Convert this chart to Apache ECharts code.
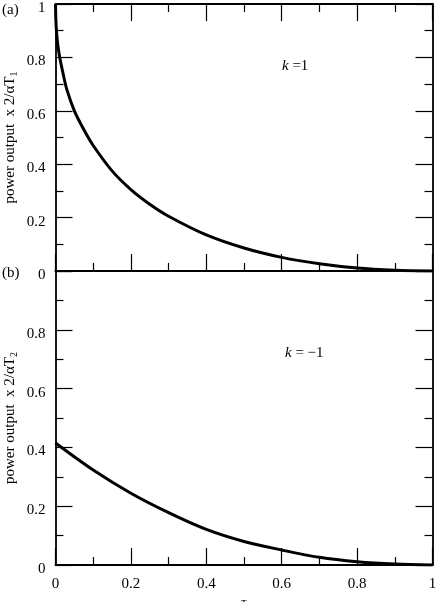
<!DOCTYPE html>
<html>
<head>
<meta charset="utf-8">
<script src="https://cdn.jsdelivr.net/npm/echarts@6/dist/echarts.min.js"></script>
<style>
  html, body { margin: 0; padding: 0; background: #fff; }
  #main { width: 442px; height: 602px; }
</style>
</head>
<body>
<div id="main"></div>
<script>
// panel (a), k = 1
const tauA = [0, 0.001, 0.0025, 0.005, 0.01, 0.02, 0.03, 0.05, 0.075, 0.1, 0.15, 0.2, 0.25, 0.3, 0.4, 0.5, 0.6, 0.7, 0.8, 0.9, 1];
const powerA = [1, 0.94, 0.90, 0.86, 0.81, 0.74, 0.68, 0.60, 0.53, 0.47, 0.375, 0.305, 0.25, 0.205, 0.135, 0.086, 0.051, 0.027, 0.011, 0.003, 0];
// panel (b), k = -1
const tauB = [0, 0.1, 0.2, 0.3, 0.4, 0.5, 0.6, 0.7, 0.8, 0.9, 1];
const powerB = [0.415, 0.323, 0.244, 0.178, 0.121, 0.08, 0.051, 0.026, 0.011, 0.003, 0];

const FONT = '"Liberation Serif", "DejaVu Serif", serif';

function pairs(xs, ys) {
  return xs.map((x, i) => [x, ys[i]]);
}

const line = { show: true, onZero: false, lineStyle: { color: '#000', width: 1.8 } };
const minor = { show: true, splitNumber: 2, length: 8, lineStyle: { color: '#000', width: 1.2 } };

function tickFor(show) {
  return { show, inside: true, length: 17, lineStyle: { color: '#000', width: 1.2 } };
}

function xAxisFor(gridIndex, position, showLabels, showTicks) {
  return {
    type: 'value', gridIndex, position, min: 0, max: 1, interval: 0.2,
    axisLine: line, axisTick: tickFor(showTicks),
    minorTick: Object.assign({}, minor, { show: showTicks }),
    splitLine: { show: false },
    axisLabel: { show: showLabels, color: '#000', fontFamily: FONT, fontSize: 15, margin: 12 },
    name: showLabels ? 'τ' : '', nameLocation: 'middle', nameGap: 31, nameMoveOverlap: false,
    nameTextStyle: { color: '#000', fontFamily: FONT, fontSize: 15 }
  };
}

function yAxisFor(gridIndex, position, showLabels, sub, hideMax) {
  return {
    type: 'value', gridIndex, position, min: 0, max: 1, interval: 0.2,
    axisLine: line, axisTick: tickFor(true), minorTick: minor,
    splitLine: { show: false },
    axisLabel: {
      show: showLabels, color: '#000', fontFamily: FONT, fontSize: 15, margin: 10,
      verticalAlign: 'top', lineHeight: 8, showMaxLabel: !hideMax
    },
    name: showLabels ? 'power output  x 2/αT{s|' + sub + '}' : '',
    nameLocation: 'middle', nameGap: 36, nameMoveOverlap: false,
    nameTextStyle: {
      color: '#000', fontFamily: FONT, fontSize: 15,
      rich: { s: { fontFamily: FONT, fontSize: 10, padding: [8, 0, 0, 0] } }
    }
  };
}

const chart = echarts.init(document.getElementById('main'), null, { renderer: 'canvas' });
chart.setOption({
  backgroundColor: '#fff',
  animation: false,
  grid: [
    { left: 55.5, right: 9.5, top: 4, height: 267, outerBoundsMode: 'none', containLabel: false },
    { left: 55.5, right: 9.5, top: 271, height: 294, outerBoundsMode: 'none', containLabel: false }
  ],
  xAxis: [
    xAxisFor(0, 'bottom', false, true),
    xAxisFor(0, 'top', false, true),
    xAxisFor(1, 'bottom', true, true),
    xAxisFor(1, 'top', false, false)
  ],
  yAxis: [
    yAxisFor(0, 'left', true, '1', false),
    yAxisFor(0, 'right', false, '', false),
    yAxisFor(1, 'left', true, '2', true),
    yAxisFor(1, 'right', false, '', false)
  ],
  series: [
    {
      type: 'line', xAxisIndex: 0, yAxisIndex: 0, data: pairs(tauA, powerA),
      smooth: 0.3, showSymbol: false,
      lineStyle: { color: '#000', width: 3 }
    },
    {
      type: 'line', xAxisIndex: 2, yAxisIndex: 2, data: pairs(tauB, powerB),
      smooth: 0.3, showSymbol: false,
      lineStyle: { color: '#000', width: 3 }
    }
  ],
  graphic: [
    { type: 'text', left: 2, top: 3, style: { text: '(a)', fill: '#000', font: '15px ' + FONT } },
    { type: 'text', left: 2, top: 266, style: { text: '(b)', fill: '#000', font: '15px ' + FONT } },
    {
      type: 'text', left: 282, top: 59,
      style: {
        text: '{i|k} =1', fill: '#000', font: '15px ' + FONT,
        rich: { i: { fontStyle: 'italic', fontFamily: FONT, fontSize: 15 } }
      }
    },
    {
      type: 'text', left: 285, top: 346,
      style: {
        text: '{i|k} = −1', fill: '#000', font: '15px ' + FONT,
        rich: { i: { fontStyle: 'italic', fontFamily: FONT, fontSize: 15 } }
      }
    }
  ]
});
</script>
</body>
</html>
